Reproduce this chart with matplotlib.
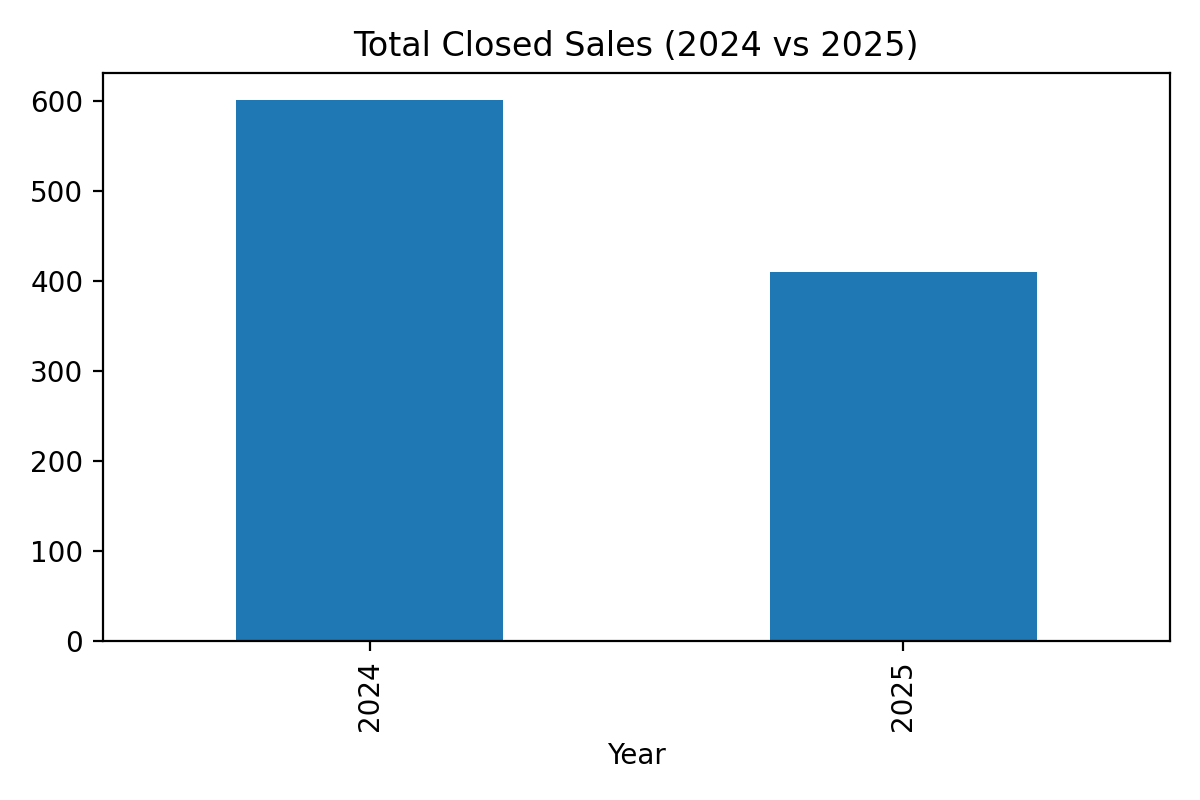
import matplotlib
matplotlib.use("Agg")
import matplotlib.pyplot as plt
import pandas as pd

years = [2024, 2025]
closed_sales = [601, 410]

s = pd.Series(closed_sales, index=pd.Index(years, name="Year"))
fig, ax = plt.subplots(figsize=(6, 4), dpi=200)
s.plot(kind="bar", ax=ax, color="#1f77b4")
ax.set_title("Total Closed Sales (2024 vs 2025)")
ax.set_xlabel("Year")
fig.tight_layout()
fig.savefig("out.png", dpi=200)
